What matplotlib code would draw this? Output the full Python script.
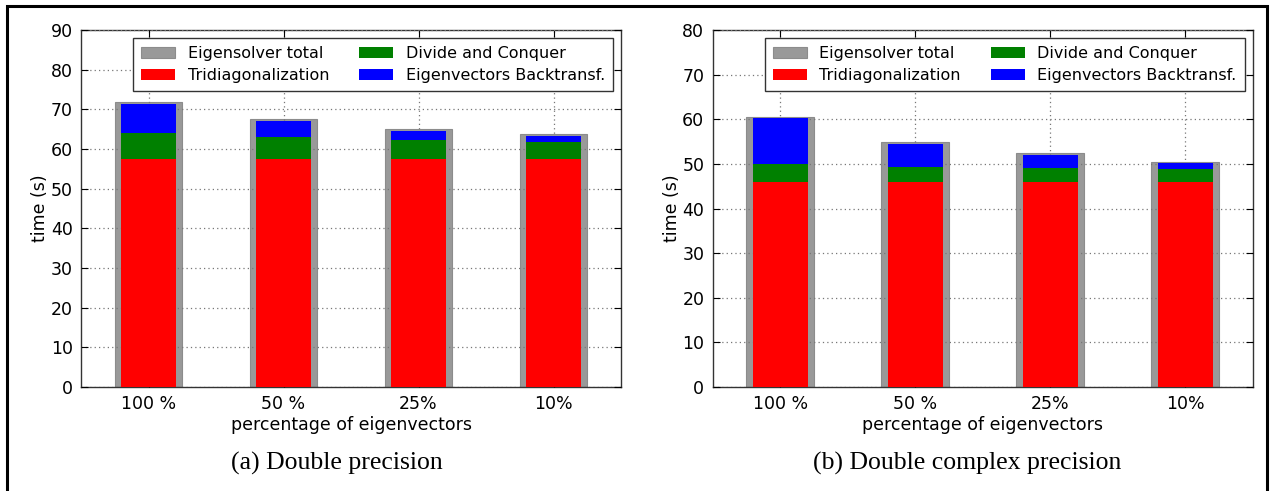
import matplotlib
matplotlib.use("Agg")
import matplotlib.pyplot as plt
from matplotlib.patches import Rectangle
import numpy as np

categories = ["100 %", "50 %", "25%", "10%"]

# (a) double precision
total_d = [71.8, 67.5, 65.0, 63.8]
tri_d = [57.4, 57.4, 57.4, 57.4]
dc_d = [6.7, 5.5, 4.9, 4.4]
back_d = [7.3, 4.15, 2.3, 1.6]

# (b) double complex precision
total_z = [60.4, 54.9, 52.5, 50.5]
tri_z = [46.0, 46.0, 46.0, 46.0]
dc_z = [4.0, 3.4, 3.1, 2.9]
back_z = [10.2, 5.1, 3.0, 1.3]

W, H = 1273, 491
fig = plt.figure(figsize=(W / 100, H / 100), dpi=100)


def draw_panel(ax, total, tri, dc, back, ymax):
    x = np.arange(len(categories))
    tri = np.array(tri)
    dc = np.array(dc)
    back = np.array(back)
    ax.bar(x, total, width=0.5, color="#999999", edgecolor="#8c8c8c", linewidth=0.8,
           label="Eigensolver total", zorder=2)
    ax.bar(x, tri, width=0.41, color="#ff0000", linewidth=0, label="Tridiagonalization", zorder=3)
    ax.bar(x, dc, width=0.41, bottom=tri, color="#008000", linewidth=0,
           label="Divide and Conquer", zorder=3)
    ax.bar(x, back, width=0.41, bottom=tri + dc, color="#0000ff", linewidth=0,
           label="Eigenvectors Backtransf.", zorder=3)
    ax.set_xlim(-0.5, len(categories) - 0.5)
    ax.set_ylim(0, ymax)
    ax.set_yticks(np.arange(0, ymax + 1, 10))
    ax.set_xticks(x)
    ax.set_xticklabels(categories, fontsize=12.5)
    ax.tick_params(axis="y", labelsize=12.5)
    ax.tick_params(direction="in", top=True, right=True, length=5, width=0.8, pad=6)
    ax.grid(True, linestyle=(0, (1, 2.5)), color="#777777", linewidth=0.9, zorder=4)
    ax.set_axisbelow(False)
    for s in ax.spines.values():
        s.set_linewidth(1.0)
        s.set_color("#333333")
    ax.set_xlabel("percentage of eigenvectors", fontsize=12.5, labelpad=2)
    ax.set_ylabel("time (s)", fontsize=12.5, labelpad=1)
    ax.legend(loc="upper right", ncol=2, fontsize=11.5, frameon=True, fancybox=False,
              edgecolor="#333333", framealpha=1, borderpad=0.5, labelspacing=0.45,
              columnspacing=1.9, handlelength=2.1, handletextpad=0.8,
              borderaxespad=0, bbox_to_anchor=(1 - 8 / 540, 1 - 8 / 357))
    ax.get_legend().get_frame().set_linewidth(1.0)
    ax.get_legend().set_zorder(6)


ax1 = fig.add_axes([81 / W, 104 / H, 540 / W, 357 / H])
draw_panel(ax1, total_d, tri_d, dc_d, back_d, 90)
ax2 = fig.add_axes([712.7 / W, 104 / H, 540 / W, 357 / H])
draw_panel(ax2, total_z, tri_z, dc_z, back_z, 80)

fig.text(337 / W, 1 - 463 / H, "(a) Double precision", ha="center", va="center",
         fontsize=18.5, family="Liberation Serif")
fig.text(967 / W, 1 - 463 / H, "(b) Double complex precision", ha="center", va="center",
         fontsize=18.5, family="Liberation Serif")

# outer frame
fig.patches.append(Rectangle((7 / W, -0.01), 1260 / W, 1 - 6 / H + 0.01, transform=fig.transFigure,
                             fill=False, edgecolor="k", linewidth=2.2))

fig.savefig("out.png", dpi=100)
